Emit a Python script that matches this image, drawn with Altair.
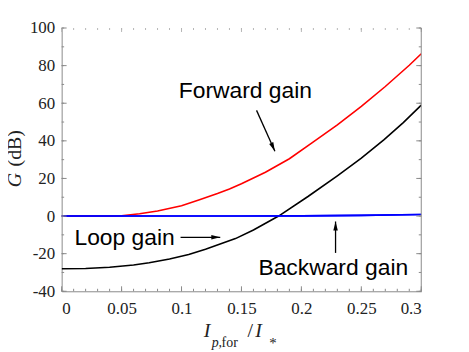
import altair as alt
import pandas as pd

# ---------------- data ----------------
fwd_x = [0, 0.04, 0.05, 0.065, 0.08, 0.1, 0.115, 0.13, 0.14, 0.15, 0.17, 0.19, 0.21, 0.23, 0.25, 0.27, 0.29, 0.3]
fwd_g = [0, 0, 0.2, 1.2, 2.7, 5.5, 8.7, 12, 14.4, 17.2, 23.3, 30.5, 39.4, 48.5, 58.3, 68.9, 80.2, 86.3]

loop_x = [0, 0.02, 0.04, 0.06, 0.073, 0.09, 0.106, 0.12, 0.145, 0.16, 0.181, 0.2055, 0.23, 0.25, 0.269, 0.285, 0.3]
loop_g = [-28, -27.9, -27.2, -26, -24.8, -22.8, -20.4, -17.6, -12, -7.4, 0, 10.4, 21.4, 30.8, 40.7, 49.7, 59]

bwd_x = [0, 0.15, 0.2, 0.25, 0.3]
bwd_g = [0, 0, 0.1, 0.35, 0.8]

x_major = [0, 0.05, 0.1, 0.15, 0.2, 0.25, 0.3]
x_minor = [round(i * 0.01, 2) for i in range(31)]
y_major = [-40, -20, 0, 20, 40, 60, 80, 100]
y_minor = [-40, -30, -20, -10, 0, 10, 20, 30, 40, 50, 60, 70, 80, 90, 100]

labels = ["Forward gain", "Loop gain", "Backward gain"]
label_x = [0.1533, 0.0525, 0.2266]
label_y = [62.6, -15.5, -31.5]

arrow_x1 = [0.1626, 0.0992, 0.2285]
arrow_y1 = [56.2, -11.3, -19.6]
arrow_x2 = [0.1779, 0.1323, 0.2285]
arrow_y2 = [34.5, -11.3, -2.9]
arrow_angle = [155.8, 90, 0]

W, H = 362, 265
GRAY = "#8a8a8a"
SERIF = "Liberation Serif, Times New Roman, serif"

xs = alt.Scale(domain=[0, 0.3], nice=False, zero=False)
ys = alt.Scale(domain=[-40, 100], nice=False, zero=False)

lines = pd.DataFrame({
    "x": fwd_x + loop_x + bwd_x,
    "G": fwd_g + loop_g + bwd_g,
    "series": ["Forward"] * len(fwd_x) + ["Loop"] * len(loop_x) + ["Backward"] * len(bwd_x),
    "order": list(range(len(fwd_x))) + list(range(len(loop_x))) + list(range(len(bwd_x))),
})

x_axis = alt.Axis(values=x_major, format="~g", title=None, labelOverlap=False,
                  labelFont=SERIF, labelFontSize=17, labelPadding=9)
y_axis = alt.Axis(values=y_major, title=None, labelOverlap=False,
                  labelExpr="datum.value < 0 ? '-' + abs(datum.value) : '' + datum.value",
                  labelFont=SERIF, labelFontSize=17, labelPadding=7)

line_layer = alt.Chart(lines).mark_line(strokeWidth=1.6, clip=True).encode(
    x=alt.X("x:Q", scale=xs, axis=x_axis),
    y=alt.Y("G:Q", scale=ys, axis=y_axis),
    color=alt.Color("series:N", scale=alt.Scale(domain=["Forward", "Loop", "Backward"],
                                                 range=["#ff0000", "#000000", "#0000ff"]), legend=None),
    detail="series:N",
    order="order:Q",
)

# draw backward (blue) on top
blue_layer = alt.Chart(lines[lines.series == "Backward"]).mark_line(strokeWidth=1.6, color="#0000ff").encode(
    x=alt.X("x:Q", scale=xs, axis=x_axis), y=alt.Y("G:Q", scale=ys, axis=y_axis), order="order:Q")


def xticks(vals, y0, y1, color):
    return alt.Chart(pd.DataFrame({"x": vals})).mark_rule(color=color, strokeWidth=1).encode(
        x=alt.X("x:Q", scale=xs, axis=x_axis), y=alt.value(y0), y2=alt.value(y1))


def yticks(vals, x0, x1, color):
    return alt.Chart(pd.DataFrame({"y": vals})).mark_rule(color=color, strokeWidth=1).encode(
        y=alt.Y("y:Q", scale=ys, axis=y_axis), x=alt.value(x0), x2=alt.value(x1))


tick_layers = [
    xticks(x_minor, H, H - 2.5, GRAY), xticks(x_major, H, H - 5, GRAY),
    xticks(x_minor, 0, 2, "#b5b5b5"), xticks(x_major, 0, 4, "#b5b5b5"),
    yticks(y_minor, 0, 2.5, GRAY), yticks(y_major, 0, 5, GRAY),
    yticks(y_minor, W, W - 2.5, GRAY), yticks(y_major, W, W - 5, GRAY),
]

right_line = alt.Chart(pd.DataFrame({"a": [0]})).mark_rule(color=GRAY, strokeWidth=1).encode(
    x=alt.value(W), y=alt.value(0), y2=alt.value(H))

ann = pd.DataFrame({"label": labels, "x": label_x, "y": label_y})
ann_layer = alt.Chart(ann).mark_text(font="Liberation Sans", fontSize=23, align="center",
                                     baseline="alphabetic", color="#000").encode(
    x=alt.X("x:Q", scale=xs, axis=x_axis), y=alt.Y("y:Q", scale=ys, axis=y_axis), text="label:N")

arr = pd.DataFrame({"x1": arrow_x1, "y1": arrow_y1, "x2": arrow_x2, "y2": arrow_y2, "angle": arrow_angle})
arrow_lines = alt.Chart(arr).mark_rule(color="#000", strokeWidth=1.3).encode(
    x=alt.X("x1:Q", scale=xs, axis=x_axis), y=alt.Y("y1:Q", scale=ys, axis=y_axis), x2="x2:Q", y2="y2:Q")
arrow_heads = alt.Chart(arr).mark_point(
    shape="M0,0 L0.5,2 L-0.5,2 Z", filled=True, color="#000", opacity=1, size=81, strokeWidth=0).encode(
    x=alt.X("x2:Q", scale=xs, axis=x_axis), y=alt.Y("y2:Q", scale=ys, axis=y_axis),
    angle=alt.Angle("angle:Q", scale=None))


# axis titles built from pieces
def txt(t, x, y, size, style="normal", align="left", angle=0, baseline="alphabetic"):
    kw = dict(text=t, font=SERIF, fontSize=size, fontStyle=style, align=align,
              baseline=baseline, color="#222")
    if angle:
        kw["angle"] = angle
    return alt.Chart(pd.DataFrame({"a": [0]})).mark_text(**kw).encode(x=alt.value(x), y=alt.value(y))


title_layers = [
    txt("I", 143, 311, 20, "italic"),
    txt("p,", 151, 321, 14, "italic"),
    txt("for", 161, 321, 14),
    txt("/", 187, 311, 20),
    txt("I", 195, 311, 20, "italic"),
    txt("*", 209, 322, 15),
    txt("G", -47, 153, 20, "italic", align="center", angle=270, baseline="middle"),
    txt("(dB)", -47, 121, 20, align="center", angle=270, baseline="middle"),
]

chart = alt.layer(
    line_layer, blue_layer, *tick_layers, right_line, ann_layer, arrow_lines, arrow_heads, *title_layers
).properties(
    width=W, height=H, autosize="none",
    padding={"left": 54, "top": 19, "right": 40, "bottom": 62},
).configure_view(stroke=None).configure_axis(
    grid=False, ticks=False, tickSize=0, domainColor=GRAY, domainWidth=1,
    labelFont=SERIF, labelFontSize=17, labelColor="#222",
)

chart.save("out.html", embed_options={"renderer": "svg", "actions": False})
